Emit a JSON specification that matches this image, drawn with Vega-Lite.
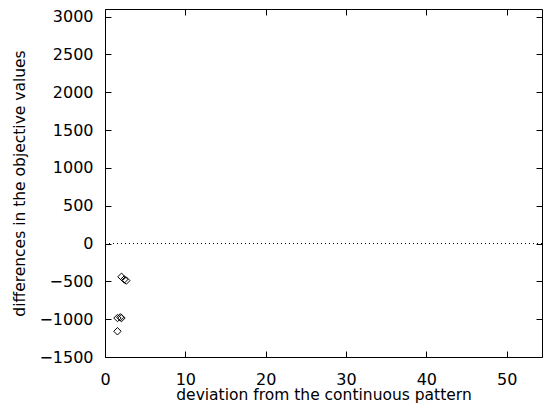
{
  "$schema": "https://vega.github.io/schema/vega-lite/v6.json",
  "width": 437,
  "height": 348,
  "autosize": {"type": "none"},
  "padding": {"left": 105, "top": 9, "right": 1, "bottom": 49},
  "background": "white",
  "config": {
    "view": {"stroke": "black", "strokeWidth": 1},
    "font": "DejaVu Sans",
    "axis": {
      "grid": false,
      "domain": false,
      "tickColor": "black",
      "tickSize": -6,
      "labelColor": "black",
      "labelFontSize": 16,
      "titleFontSize": 15.5,
      "titleFontWeight": "normal",
      "titleColor": "black",
      "labelFont": "DejaVu Sans",
      "titleFont": "DejaVu Sans",
      "labelFlush": false,
      "format": "d"
    }
  },
  "datasets": {
    "pts": [
      {"dev": 2.05, "diff": -440},
      {"dev": 2.4, "diff": -475},
      {"dev": 2.65, "diff": -490},
      {"dev": 1.55, "diff": -985},
      {"dev": 1.9, "diff": -975},
      {"dev": 2.05, "diff": -985},
      {"dev": 1.55, "diff": -1160}
    ],
    "zero": [{"diff": 0}]
  },
  "layer": [
    {
      "data": {"name": "zero"},
      "mark": {"type": "rule", "color": "black", "strokeWidth": 1, "strokeDash": [1, 3]},
      "encoding": {
        "y": {
          "field": "diff",
          "type": "quantitative",
          "scale": {"domain": [-1500, 3100], "nice": false, "zero": false},
          "axis": {
            "orient": "left",
            "title": "differences in the objective values",
            "values": [-1500, -1000, -500, 0, 500, 1000, 1500, 2000, 2500, 3000],
            "labelPadding": 18,
            "titlePadding": 11
          }
        }
      }
    },
    {
      "data": {"name": "pts"},
      "mark": {"type": "point", "shape": "diamond", "filled": false, "stroke": "black", "strokeWidth": 1, "size": 55, "opacity": 1},
      "encoding": {
        "x": {
          "field": "dev",
          "type": "quantitative",
          "scale": {"domain": [0, 54.4], "nice": false, "zero": false},
          "axis": {
            "orient": "bottom",
            "title": "deviation from the continuous pattern",
            "values": [0, 10, 20, 30, 40, 50],
            "labelPadding": 20,
            "titlePadding": 0
          }
        },
        "y": {
          "field": "diff",
          "type": "quantitative",
          "axis": null
        }
      }
    },
    {
      "data": {"name": "pts"},
      "mark": {"type": "point", "opacity": 0},
      "encoding": {
        "x": {
          "field": "dev",
          "type": "quantitative",
          "axis": {"orient": "top", "labels": false, "title": null, "values": [0, 10, 20, 30, 40, 50]}
        },
        "y": {
          "field": "diff",
          "type": "quantitative",
          "axis": {"orient": "right", "labels": false, "title": null, "values": [-1500, -1000, -500, 0, 500, 1000, 1500, 2000, 2500, 3000]}
        }
      }
    }
  ],
  "resolve": {"axis": {"x": "independent", "y": "independent"}}
}
